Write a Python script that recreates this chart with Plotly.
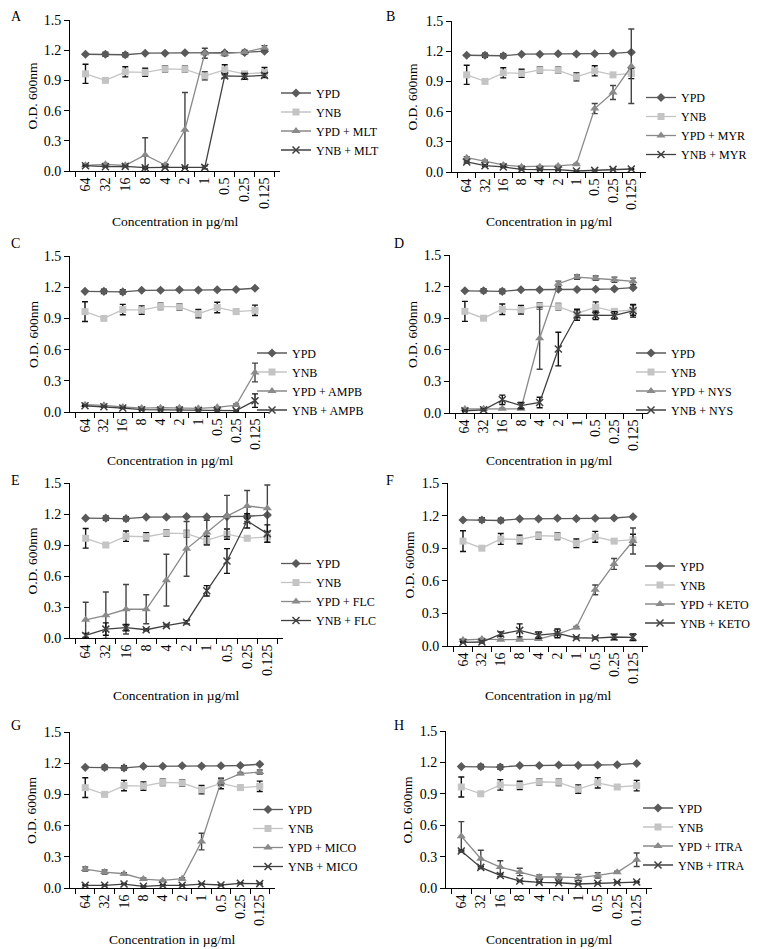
import plotly.graph_objects as go

# ---------------- data ----------------
conc = ["64", "32", "16", "8", "4", "2", "1", "0.5", "0.25", "0.125"]

ypd = [1.16, 1.16, 1.155, 1.17, 1.17, 1.175, 1.172, 1.175, 1.178, 1.19]
ypd_err = [0.005, 0.02, 0.02, 0.005, 0.008, 0.008, 0.008, 0.008, 0.008, 0.008]
ynb = [0.965, 0.90, 0.985, 0.98, 1.015, 1.01, 0.945, 1.005, 0.965, 0.978]
ynb_err = [0.095, 0.005, 0.05, 0.04, 0.03, 0.03, 0.04, 0.05, 0.02, 0.05]

# A - MLT
ypd_mlt = [0.056, 0.066, 0.056, 0.16, 0.06, 0.41, 1.17, 1.165, 1.18, 1.225]
ypd_mlt_err = [0.01, 0.01, 0.01, 0.17, 0.01, 0.37, 0.05, 0.02, 0.02, 0.02]
ynb_mlt = [0.053, 0.043, 0.046, 0.033, 0.036, 0.033, 0.036, 0.945, 0.94, 0.95]
ynb_mlt_err = [0.005, 0.005, 0.005, 0.01, 0.005, 0.005, 0.015, 0.02, 0.03, 0.02]

# B - MYR
ypd_myr = [0.142, 0.106, 0.07, 0.053, 0.053, 0.06, 0.076, 0.63, 0.79, 1.05]
ypd_myr_err = [0.01, 0.01, 0.01, 0.005, 0.005, 0.005, 0.01, 0.05, 0.07, 0.37]
ynb_myr = [0.1, 0.063, 0.05, 0.026, 0.023, 0.023, 0.01, 0.016, 0.026, 0.03]
ynb_myr_err = [0.01, 0.01, 0.005, 0.005, 0.005, 0.005, 0.005, 0.005, 0.005, 0.005]

# C - AMPB
ypd_ampb = [0.07, 0.064, 0.048, 0.038, 0.042, 0.042, 0.035, 0.045, 0.067, 0.38]
ypd_ampb_err = [0.005, 0.005, 0.005, 0.005, 0.005, 0.005, 0.005, 0.005, 0.01, 0.09]
ynb_ampb = [0.06, 0.051, 0.038, 0.022, 0.019, 0.019, 0.016, 0.016, 0.013, 0.109]
ynb_ampb_err = [0.005, 0.005, 0.005, 0.005, 0.005, 0.005, 0.005, 0.005, 0.005, 0.065]

# D - NYS
ypd_nys = [0.038, 0.04, 0.04, 0.04, 0.71, 1.227, 1.29, 1.28, 1.265, 1.25]
ypd_nys_err = [0.005, 0.005, 0.005, 0.005, 0.295, 0.025, 0.02, 0.02, 0.025, 0.03]
ynb_nys = [0.02, 0.03, 0.125, 0.07, 0.10, 0.607, 0.93, 0.927, 0.927, 0.97]
ynb_nys_err = [0.005, 0.01, 0.045, 0.03, 0.05, 0.16, 0.05, 0.04, 0.035, 0.06]

# E - FLC
ypd_flc = [0.176, 0.22, 0.278, 0.278, 0.56, 0.863, 1.02, 1.18, 1.278, 1.255]
ypd_flc_err = [0.17, 0.225, 0.24, 0.14, 0.25, 0.265, 0.12, 0.2, 0.15, 0.225]
ynb_flc = [0.025, 0.086, 0.10, 0.08, 0.12, 0.153, 0.457, 0.745, 1.134, 1.01]
ynb_flc_err = [0.02, 0.06, 0.03, 0.01, 0.01, 0.015, 0.05, 0.12, 0.07, 0.085]

# F - KETO
ypd_keto = [0.055, 0.064, 0.058, 0.058, 0.064, 0.11, 0.17, 0.517, 0.755, 0.966]
ypd_keto_err = [0.005, 0.005, 0.005, 0.005, 0.005, 0.01, 0.01, 0.045, 0.05, 0.12]
ynb_keto = [0.034, 0.037, 0.11, 0.144, 0.10, 0.116, 0.076, 0.073, 0.083, 0.08]
ynb_keto_err = [0.005, 0.01, 0.02, 0.06, 0.03, 0.04, 0.01, 0.01, 0.025, 0.03]

# G - MICO
ypd_mico = [0.182, 0.153, 0.137, 0.086, 0.073, 0.09, 0.447, 1.02, 1.10, 1.115]
ypd_mico_err = [0.02, 0.02, 0.01, 0.01, 0.005, 0.01, 0.08, 0.03, 0.01, 0.02]
ynb_mico = [0.026, 0.026, 0.038, 0.016, 0.026, 0.026, 0.038, 0.029, 0.045, 0.042]
ynb_mico_err = [0.005] * 10

# H - ITRA
ypd_itra = [0.494, 0.28, 0.2, 0.153, 0.105, 0.105, 0.10, 0.12, 0.15, 0.27]
ypd_itra_err = [0.14, 0.08, 0.06, 0.035, 0.02, 0.03, 0.03, 0.025, 0.01, 0.065]
ynb_itra = [0.353, 0.197, 0.12, 0.067, 0.054, 0.05, 0.038, 0.045, 0.054, 0.057]
ynb_itra_err = [0.01, 0.01, 0.01, 0.005, 0.005, 0.005, 0.005, 0.005, 0.005, 0.005]

y_ticks = [0.0, 0.3, 0.6, 0.9, 1.2, 1.5]

panels = [
    ("A", "MLT", ypd_mlt, ypd_mlt_err, ynb_mlt, ynb_mlt_err),
    ("B", "MYR", ypd_myr, ypd_myr_err, ynb_myr, ynb_myr_err),
    ("C", "AMPB", ypd_ampb, ypd_ampb_err, ynb_ampb, ynb_ampb_err),
    ("D", "NYS", ypd_nys, ypd_nys_err, ynb_nys, ynb_nys_err),
    ("E", "FLC", ypd_flc, ypd_flc_err, ynb_flc, ynb_flc_err),
    ("F", "KETO", ypd_keto, ypd_keto_err, ynb_keto, ynb_keto_err),
    ("G", "MICO", ypd_mico, ypd_mico_err, ynb_mico, ynb_mico_err),
    ("H", "ITRA", ypd_itra, ypd_itra_err, ynb_itra, ynb_itra_err),
]

# ---------------- layout (page pixels) ----------------
PAGE_W, PAGE_H = 758, 949
OFF = 8  # default body margin of the html page
W, H = PAGE_W - OFF, PAGE_H - OFF
FONT = "Liberation Serif"
# plot box: x0, x1, y_top, y_bottom (page pixels)
boxes = {
    "A": (70, 280, 20, 171), "B": (452, 646, 21, 172),
    "C": (70, 270, 256, 412), "D": (450, 648, 255, 413),
    "E": (70, 283, 483, 638), "F": (448, 648, 483, 646),
    "G": (70, 275, 732, 888), "H": (446, 652, 731, 888),
}
letters = {"A": (9, 17), "B": (384, 17), "C": (9, 243), "D": (392, 243),
           "E": (9, 480), "F": (384, 480), "G": (9, 725), "H": (392, 725)}
ytitle_x = {"A": 32, "B": 412, "C": 33, "D": 412, "E": 32, "F": 409, "G": 31, "H": 407}
xtitle_y = {"A": 222, "B": 222, "C": 460, "D": 460, "E": 695, "F": 695, "G": 939, "H": 939}
# legend: text start x, vertical centre
legpos = {"A": (312, 121.5), "B": (677, 126), "C": (288, 381.5), "D": (667, 381.5),
          "E": (312, 592), "F": (676, 594.5), "G": (284, 838), "H": (674, 836.5)}

def px(x):
    return (x - OFF) / W

def py(y):
    return 1 - (y - OFF) / H

styles = [
    dict(color="#5a5a5a", symbol="diamond", size=7),
    dict(color="#c4c4c4", symbol="square", size=7),
    dict(color="#8a8a8a", symbol="triangle-up", size=8),
    dict(color="#404040", symbol="x-thin", size=7),
]
err_colors = ["#222222", "#111111", "#444444", "#111111"]

fig = go.Figure()
annotations = []
layout_extra = {}

for i, (letter, drug, yd, yde, yn, yne) in enumerate(panels):
    k = i + 1
    xa = "x" if k == 1 else f"x{k}"
    ya = "y" if k == 1 else f"y{k}"
    leg = "legend" if k == 1 else f"legend{k}"
    series = [
        ("YPD", ypd, ypd_err),
        ("YNB", ynb, ynb_err),
        (f"YPD + {drug}", yd, yde),
        (f"YNB + {drug}", yn, yne),
    ]
    for j, (name, vals, errs) in enumerate(series):
        st = styles[j]
        mk = dict(color=st["color"], symbol=st["symbol"], size=st["size"])
        if st["symbol"] == "x-thin":
            mk["line"] = dict(color=st["color"], width=1.5)
        fig.add_trace(go.Scatter(
            x=conc, y=vals, name=name, mode="lines+markers",
            line=dict(color=st["color"], width=1.3),
            marker=mk,
            error_y=dict(type="data", array=errs, visible=True,
                         color=err_colors[j], thickness=1.4, width=3),
            xaxis=xa, yaxis=ya, legend=leg,
        ))
    x0, x1, yt, yb = boxes[letter]
    xkey = "xaxis" if k == 1 else f"xaxis{k}"
    ykey = "yaxis" if k == 1 else f"yaxis{k}"
    layout_extra[xkey] = dict(
        domain=[px(x0), px(x1)], anchor=ya, type="category",
        categoryorder="array", categoryarray=conc, automargin=False,
        tickson="boundaries", ticks="outside", ticklen=5, tickcolor="black",
        tickangle=-90, showline=True, linecolor="black", linewidth=1,
        showgrid=False, zeroline=False,
        tickfont=dict(family=FONT, size=14, color="black"),
    )
    layout_extra[ykey] = dict(
        domain=[py(yb), py(yt)], anchor=xa, range=[0, 1.5], automargin=False,
        tickvals=y_ticks, tickformat=".1f", ticks="outside", ticklen=5,
        tickcolor="black", showline=True, linecolor="black", linewidth=1,
        showgrid=False, zeroline=False,
        tickfont=dict(family=FONT, size=14, color="black"),
    )
    lx, lyc = legpos[letter]
    layout_extra[leg] = dict(
        x=px(lx - 36), y=py(lyc), xanchor="left", yanchor="middle",
        xref="paper", yref="paper", bgcolor="rgba(0,0,0,0)",
        font=dict(family=FONT, size=12, color="black"),
        itemwidth=30, tracegroupgap=0,
    )
    annotations.append(dict(
        text=letter, x=px(letters[letter][0]), y=py(letters[letter][1]),
        xref="paper", yref="paper", xanchor="left", yanchor="middle",
        showarrow=False, font=dict(family=FONT, size=14, color="black"),
    ))
    annotations.append(dict(
        text="O.D. 600nm", x=px(ytitle_x[letter]), y=py((yt + yb) / 2),
        xref="paper", yref="paper", xanchor="center", yanchor="middle",
        textangle=-90, showarrow=False,
        font=dict(family=FONT, size=13.5, color="black"),
    ))
    annotations.append(dict(
        text="Concentration in µg/ml", x=px((x0 + x1) / 2), y=py(xtitle_y[letter]),
        xref="paper", yref="paper", xanchor="center", yanchor="middle",
        showarrow=False, font=dict(family=FONT, size=13.5, color="black"),
    ))

fig.update_layout(
    width=W, height=H, margin=dict(l=0, r=0, t=0, b=0, autoexpand=False),
    paper_bgcolor="white", plot_bgcolor="white",
    showlegend=True, annotations=annotations,
    **layout_extra,
)

fig.write_html("out.html")
